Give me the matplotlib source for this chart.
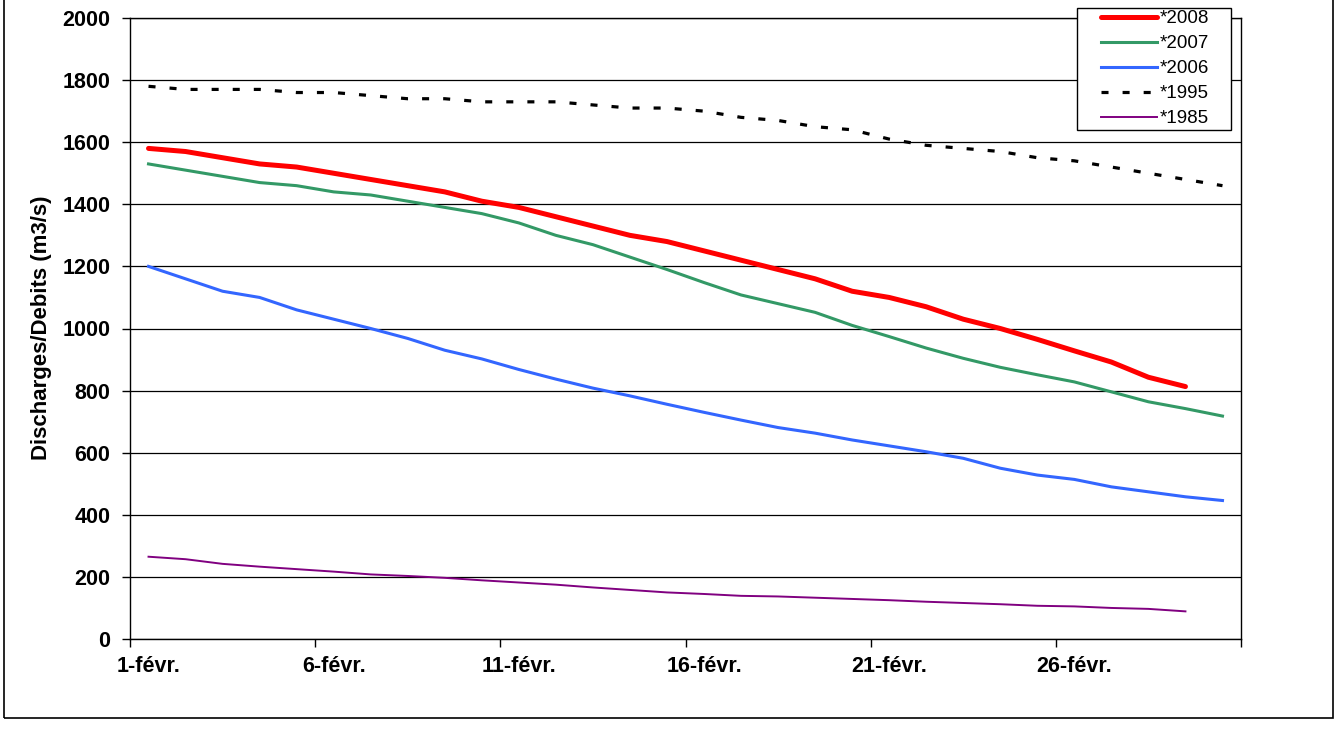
import numpy as np
import matplotlib.pyplot as plt
from matplotlib.patches import Rectangle

plt.rcParams["font.family"] = ["Liberation Sans", "DejaVu Sans"]

# daily discharges in february (m3/s)
days = list(range(1, 31))
tick_days = [1, 6, 11, 16, 21, 26]
tick_labels = ["1-févr.", "6-févr.", "11-févr.", "16-févr.", "21-févr.", "26-févr."]

q2008 = [1580, 1570, 1550, 1530, 1520, 1500, 1480, 1460, 1440, 1410,
         1390, 1360, 1330, 1300, 1280, 1250, 1220, 1190, 1160, 1120,
         1100, 1070, 1030, 1000, 965, 928, 892, 843, 813]
q2007 = [1530, 1510, 1490, 1470, 1460, 1440, 1430, 1410, 1390, 1370,
         1340, 1300, 1270, 1230, 1190, 1148, 1108, 1080, 1052, 1010,
         974, 937, 904, 875, 851, 828, 796, 764, 742, 718]
q2006 = [1200, 1160, 1120, 1100, 1060, 1030, 1000, 968, 930, 902,
         868, 837, 808, 783, 756, 730, 705, 681, 663, 641,
         622, 603, 582, 550, 528, 514, 490, 474, 458, 446]
q1995 = [1780, 1770, 1770, 1770, 1760, 1760, 1750, 1740, 1740, 1730,
         1730, 1730, 1720, 1710, 1710, 1700, 1680, 1670, 1650, 1640,
         1610, 1590, 1580, 1570, 1550, 1540, 1520, 1500, 1480, 1460]
q1985 = [265, 257, 242, 233, 225, 217, 208, 203, 197, 189,
         182, 175, 166, 158, 150, 145, 139, 137, 133, 129,
         125, 120, 116, 112, 107, 105, 100, 97, 89]

W, H = 1343, 735
fig = plt.figure(figsize=(W / 100, H / 100), dpi=100)
ax = fig.add_axes([130 / W, 96 / H, 1111 / W, 621 / H])

ax.plot(days[:len(q2008)], q2008, color="#FF0000", lw=3.6, label="*2008",
        solid_capstyle="round", solid_joinstyle="round", zorder=5)
ax.plot(days[:len(q2007)], q2007, color="#339966", lw=2.2, label="*2007", zorder=4)
ax.plot(days[:len(q2006)], q2006, color="#3366FF", lw=2.2, label="*2006", zorder=4)
ax.plot(days[:len(q1995)], q1995, color="black", lw=2.3, ls=(0, (2.2, 4.4)),
        dash_capstyle="butt", label="*1995", zorder=4)
ax.plot(days[:len(q1985)], q1985, color="#800080", lw=1.4, label="*1985", zorder=4)

ax.set_xlim(0.5, 30.5)
ax.set_ylim(0, 2000)
ax.set_yticks(np.arange(0, 2001, 200))
ax.set_xticks(np.arange(0.5, 31, 5))
ax.set_xticklabels([])
ax.set_xticks(tick_days, minor=True)
ax.set_xticklabels(tick_labels, minor=True, fontsize=15.5, fontweight="bold")
ax.tick_params(axis="x", which="major", length=6, width=1, color="black")
ax.tick_params(axis="x", which="minor", length=0, pad=12)
ax.tick_params(axis="y", length=6, width=1, pad=8, labelsize=15.5)
for t in ax.get_yticklabels():
    t.set_fontweight("bold")

ax.yaxis.grid(True, color="black", lw=0.9)
ax.set_axisbelow(True)
for s in ax.spines.values():
    s.set_color("black")
    s.set_linewidth(1)

fig.text(42 / W, 1 - 328 / H, "Discharges/Debits (m3/s)", rotation=90,
         ha="center", va="center", fontsize=16, fontweight="bold")

# outer chart border
fig.patches.append(Rectangle((4 / W, 17 / H), 1329 / W, 730 / H,
                             transform=fig.transFigure, fill=False,
                             ec="black", lw=1.2, zorder=1))
# legend box
fig.patches.append(Rectangle((1077 / W, 1 - 130 / H), 154 / W, 122 / H,
                             transform=fig.transFigure, fc="white",
                             ec="black", lw=1, zorder=2))
handles, labels = ax.get_legend_handles_labels()
leg = fig.legend(handles, labels, loc="upper left",
                 bbox_to_anchor=(1101 / W, 1 - 10 / H), bbox_transform=fig.transFigure,
                 frameon=False, fontsize=13.5, borderpad=0, borderaxespad=0,
                 handlelength=3.0, handletextpad=0.12, labelspacing=0.42)
leg.set_zorder(3)

fig.savefig("out.png", dpi=100)
